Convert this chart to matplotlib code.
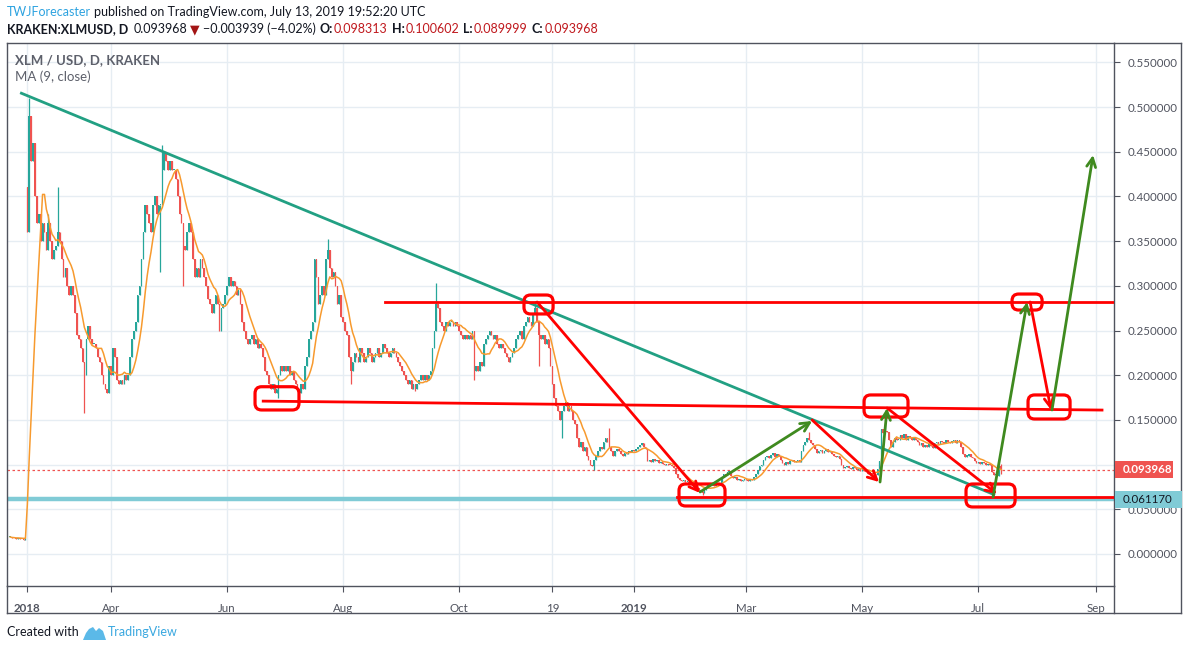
import numpy as np
import pandas as pd
import matplotlib.pyplot as plt
from matplotlib.patches import FancyBboxPatch, Rectangle, Polygon
from matplotlib.lines import Line2D

plt.rcParams['font.family'] = ['Lato', 'DejaVu Sans']

# daily closes of XLM/USD on Kraken (one list per month)
pre_2018 = [0.019, 0.018, 0.018, 0.017, 0.018, 0.017, 0.017, 0.016, 0.018]
q1_2018 = [0.36, 0.49, 0.44, 0.46, 0.40, 0.37, 0.38, 0.35, 0.37, 0.36,
           0.34, 0.37, 0.35, 0.33, 0.34, 0.345, 0.36, 0.35, 0.33, 0.31,
           0.32, 0.30, 0.29, 0.30, 0.29, 0.27, 0.245, 0.24, 0.23, 0.215,
           0.20, 0.24, 0.255, 0.24, 0.235, 0.235, 0.23, 0.22, 0.215, 0.20,
           0.19, 0.185, 0.18, 0.21]
apr_2018 = [0.20, 0.23, 0.22, 0.195, 0.19, 0.195, 0.19, 0.20, 0.195, 0.20,
            0.22, 0.24, 0.25, 0.26, 0.29, 0.30, 0.33, 0.36, 0.39, 0.38,
            0.37, 0.36, 0.39, 0.40, 0.38, 0.39, 0.39, 0.43, 0.45, 0.44]
may_2018 = [0.43, 0.44, 0.43, 0.43, 0.42, 0.40, 0.38, 0.37, 0.345, 0.34,
            0.36, 0.37, 0.36, 0.33, 0.31, 0.32, 0.31, 0.33, 0.32, 0.31,
            0.30, 0.285, 0.28, 0.27, 0.28, 0.29, 0.28, 0.25, 0.275, 0.28, 0.29]
jun_2018 = [0.30, 0.31, 0.30, 0.305, 0.30, 0.29, 0.295, 0.28, 0.26, 0.25,
            0.24, 0.235, 0.24, 0.245, 0.235, 0.24, 0.23, 0.235, 0.23, 0.22,
            0.205, 0.20, 0.19, 0.185, 0.19, 0.18, 0.185, 0.20, 0.21, 0.205]
jul_2018 = [0.21, 0.205, 0.21, 0.20, 0.205, 0.195, 0.19, 0.185, 0.18, 0.19,
            0.185, 0.21, 0.22, 0.24, 0.25, 0.26, 0.33, 0.31, 0.28, 0.29,
            0.30, 0.29, 0.33, 0.34, 0.32, 0.31, 0.315, 0.30, 0.28, 0.29, 0.265]
aug_2018 = [0.26, 0.25, 0.245, 0.22, 0.205, 0.215, 0.225, 0.22, 0.215, 0.23,
            0.225, 0.215, 0.22, 0.23, 0.225, 0.215, 0.22, 0.225, 0.23, 0.22,
            0.225, 0.235, 0.23, 0.225, 0.22, 0.225, 0.23, 0.225, 0.22, 0.215, 0.21]
sep_2018 = [0.205, 0.20, 0.195, 0.19, 0.195, 0.185, 0.19, 0.185, 0.19, 0.195,
            0.20, 0.195, 0.20, 0.195, 0.20, 0.205, 0.23, 0.25, 0.28, 0.275,
            0.26, 0.255, 0.25, 0.26, 0.255, 0.26, 0.26, 0.255, 0.26, 0.255]
oct_2018 = [0.25, 0.245, 0.24, 0.245, 0.24, 0.245, 0.24, 0.25, 0.205, 0.21,
            0.205, 0.215, 0.21, 0.235, 0.24, 0.245, 0.25, 0.245, 0.24, 0.245,
            0.235, 0.23, 0.235, 0.23, 0.225, 0.22, 0.215, 0.22, 0.225, 0.23, 0.24]
nov_2018 = [0.245, 0.25, 0.24, 0.255, 0.26, 0.265, 0.26, 0.255, 0.27, 0.275,
            0.26, 0.245, 0.24, 0.245, 0.235, 0.24, 0.23, 0.21, 0.19, 0.175,
            0.165, 0.16, 0.15, 0.16, 0.165, 0.17, 0.16, 0.165, 0.16, 0.15]
dec_2018 = [0.145, 0.13, 0.12, 0.125, 0.115, 0.12, 0.11, 0.105, 0.10, 0.098,
            0.105, 0.11, 0.115, 0.12, 0.118, 0.125, 0.13, 0.125, 0.12, 0.115,
            0.11, 0.115, 0.117, 0.115, 0.112, 0.11, 0.113, 0.112, 0.115, 0.114, 0.116]
jan_2019 = [0.115, 0.118, 0.12, 0.122, 0.124, 0.12, 0.118, 0.104, 0.105, 0.103,
            0.106, 0.104, 0.105, 0.102, 0.103, 0.101, 0.10, 0.101, 0.10, 0.099,
            0.098, 0.096, 0.09, 0.085, 0.083, 0.082, 0.083, 0.08, 0.081, 0.079, 0.08]
feb_2019 = [0.078, 0.076, 0.074, 0.072, 0.07, 0.068, 0.072, 0.075, 0.078, 0.077,
            0.079, 0.076, 0.078, 0.077, 0.079, 0.086, 0.09, 0.088, 0.092, 0.093,
            0.087, 0.085, 0.086, 0.083, 0.084, 0.082, 0.083, 0.084]
mar_2019 = [0.083, 0.082, 0.084, 0.083, 0.086, 0.09, 0.094, 0.098, 0.10, 0.105,
            0.108, 0.11, 0.107, 0.111, 0.113, 0.109, 0.112, 0.11, 0.105, 0.102,
            0.10, 0.103, 0.101, 0.104, 0.105, 0.103, 0.104, 0.105, 0.103, 0.115, 0.122]
apr_2019 = [0.125, 0.13, 0.128, 0.124, 0.122, 0.118, 0.113, 0.115, 0.116, 0.113,
            0.115, 0.117, 0.114, 0.115, 0.112, 0.11, 0.108, 0.11, 0.106, 0.10,
            0.096, 0.097, 0.098, 0.096, 0.095, 0.097, 0.096, 0.094, 0.095, 0.093]
may_2019 = [0.095, 0.093, 0.092, 0.09, 0.091, 0.089, 0.09, 0.088, 0.095, 0.104,
            0.14, 0.135, 0.138, 0.136, 0.128, 0.12, 0.125, 0.13, 0.127, 0.128,
            0.133, 0.13, 0.134, 0.128, 0.132, 0.13, 0.127, 0.13, 0.128, 0.125, 0.122]
jun_2019 = [0.124, 0.12, 0.122, 0.12, 0.123, 0.121, 0.119, 0.124, 0.125, 0.123,
            0.126, 0.125, 0.124, 0.127, 0.125, 0.124, 0.126, 0.128, 0.124, 0.127,
            0.125, 0.12, 0.112, 0.109, 0.11, 0.112, 0.108, 0.107, 0.104, 0.102]
jul_2019 = [0.103, 0.101, 0.103, 0.102, 0.10, 0.101, 0.099, 0.092, 0.088, 0.09,
            0.087, 0.0979, 0.093968]

segments = [("pre", pre_2018), ("2018q1", q1_2018), ("2018-04", apr_2018),
            ("2018-05", may_2018), ("2018-06", jun_2018), ("2018-07", jul_2018),
            ("2018-08", aug_2018), ("2018-09", sep_2018), ("2018-10", oct_2018),
            ("2018-11", nov_2018), ("2018-12", dec_2018), ("2019-01", jan_2019),
            ("2019-02", feb_2019), ("2019-03", mar_2019), ("2019-04", apr_2019),
            ("2019-05", may_2019), ("2019-06", jun_2019), ("2019-07", jul_2019)]

# wicks that stick out of the bodies: (segment, bar in segment, high, low)
wicks = [("2018q1", 1, 0.51, None), ("2018q1", 11, 0.38, None), ("2018q1", 16, 0.41, None),
         ("2018q1", 30, None, 0.158), ("2018-04", 26, None, 0.315), ("2018-04", 27, 0.458, None),
         ("2018-05", 8, None, 0.30), ("2018-06", 27, None, 0.175), ("2018-07", 23, 0.352, None),
         ("2018-08", 4, None, 0.19), ("2018-09", 7, None, 0.182), ("2018-09", 18, 0.303, None),
         ("2018-10", 8, None, 0.195), ("2018-11", 9, 0.283, None), ("2018-11", 11, None, 0.21),
         ("2018-11", 23, None, 0.13), ("2018-12", 10, None, 0.094), ("2018-12", 18, 0.141, None),
         ("2019-02", 5, None, 0.066), ("2019-04", 2, 0.136, None), ("2019-05", 12, 0.145, None),
         ("2019-07", 12, 0.100602, 0.089999)]
first_open = 0.41
last_open = 0.098313
ma_len = 9

tick_labels = ["2018", "Apr", "Jun", "Aug", "Oct", "19", "2019", "Mar", "May", "Jul", "Sep"]
tick_dates = [("2018q1", 0), ("2018-04", 0), ("2018-06", 0), ("2018-08", 0), ("2018-10", 0),
              ("2018-11", 18), ("2019-01", 0), ("2019-03", 0), ("2019-05", 0), ("2019-07", 0),
              ("2019-07", 62)]
price_ticks = np.arange(0, 0.5501, 0.05)
last_price = 0.093968
line_price = 0.061170

# drawings, in (bar, price)
trend_line = [(5.2, 0.516), (517.8, 0.066)]
resistance = [(197, 0.282), (581, 0.282)]
support = [(133, 0.171), (574, 0.161)]
floor_line = [(350.6, 0.064), (581, 0.064)]
boxes = [(128.7, 151.8, 0.1611, 0.1871), (270.1, 285.4, 0.2685, 0.2897),
         (351.6, 375.8, 0.0537, 0.0783), (448.9, 472.0, 0.1532, 0.1779),
         (502.5, 528.3, 0.0526, 0.0783), (526.7, 542.5, 0.2729, 0.2908),
         (535.1, 557.2, 0.1510, 0.1779)]
arrows = [((277.0, 0.2819), (362.7, 0.0682), 'red'),
          ((362.7, 0.0694), (421.6, 0.1488), 'green'),
          ((421.6, 0.1499), (456.8, 0.0805), 'red'),
          ((457.3, 0.0805), (461.0, 0.1633), 'green'),
          ((461.0, 0.1633), (518.8, 0.0671), 'red'),
          ((516.7, 0.0638), (534.6, 0.2819), 'green'),
          ((536.2, 0.2819), (547.2, 0.1611), 'red'),
          ((547.7, 0.1611), (569.3, 0.4463), 'green')]

UP, DOWN = '#26a69a', '#ef5350'
RED, GREEN, TEAL = '#ff0000', '#3f8a1f', '#22a083'
GRID = '#e6edf3'
AXIS_TXT = '#50535e'

start = {}
closes = []
for name, vals in segments:
    start[name] = len(closes)
    closes += vals
closes = np.array(closes)
n = len(closes)
opens = np.r_[closes[0], closes[:-1]]
opens[start["2018q1"]] = first_open
opens[-1] = last_open
highs = np.maximum(opens, closes)
lows = np.minimum(opens, closes)
for seg, k, hi, lo in wicks:
    b = start[seg] + k
    if hi is not None:
        highs[b] = max(highs[b], hi)
    if lo is not None:
        lows[b] = min(lows[b], lo)
ma = pd.Series(closes).rolling(ma_len, min_periods=1).mean()

W, H = 1188, 650
fig = plt.figure(figsize=(W / 100, H / 100), dpi=100)
fig.patch.set_facecolor('white')


def fx(x):
    return x / W


def fy(y):
    return 1 - y / H


ax = fig.add_axes([fx(7), fy(586), fx(1114) - fx(7), fy(43) - fy(586)])
ax.set_xlim(-1.7, 580.3)
ax.set_ylim(-0.0358, 0.5716)

x = np.arange(n)
col = np.where(closes >= opens, UP, DOWN)
ax.vlines(x, lows, highs, colors=col, lw=0.9, zorder=3)
body = np.maximum(np.abs(closes - opens), 0.0012)
ax.bar(x, body, bottom=np.minimum(opens, closes), width=0.85, color=col, lw=0, zorder=3)
ax.plot(x, ma, color='#f79a2e', lw=1.1, zorder=4)

# drawings
ax.plot(*zip(*trend_line), color=TEAL, lw=2, zorder=5, solid_capstyle='butt')
for seg in (resistance, support, floor_line):
    ax.plot(*zip(*seg), color=RED, lw=2, zorder=5)
ax.axhline(line_price, color='#80cbd6', lw=3.2, zorder=2)
ax.axhline(last_price, color=DOWN, lw=0.9, ls=(0, (2, 2)), zorder=2)
for x0, x1, y0, y1 in boxes:
    ax.add_patch(FancyBboxPatch((x0, y0), x1 - x0, y1 - y0,
                                boxstyle='round,pad=0,rounding_size=3.5',
                                mutation_aspect=1.9 / 894,
                                fill=False, ec=RED, lw=2.3, zorder=6))
for (x0, y0), (x1, y1), c in arrows:
    ax.annotate('', xy=(x1, y1), xytext=(x0, y0),
                arrowprops=dict(arrowstyle='->', color=RED if c == 'red' else GREEN,
                                lw=2, mutation_scale=16, shrinkA=0, shrinkB=0),
                zorder=7)

# axes look
ax.set_xticks([start[s] + k for s, k in tick_dates])
ax.set_xticklabels(tick_labels)
for lab in ax.get_xticklabels():
    if lab.get_text() in ("2018", "2019"):
        lab.set_fontweight('bold')
ax.set_yticks(price_ticks)
# the 0.100000 label sits under the last-price tag, as on the original
ax.set_yticklabels(["" if abs(v - 0.1) < 1e-9 else f"{v:.6f}" for v in price_ticks])
ax.yaxis.tick_right()
ax.tick_params(axis='x', direction='out', length=4, color=AXIS_TXT, labelcolor=AXIS_TXT,
               labelsize=8.3, pad=8)
ax.tick_params(axis='y', direction='out', length=4, color=AXIS_TXT, labelcolor=AXIS_TXT,
               labelsize=8.3, pad=6)
ax.grid(True, color=GRID, lw=1, zorder=0)
ax.set_axisbelow(True)
for sp in ax.spines.values():
    sp.set_color('#50535e')
    sp.set_linewidth(1)

ax.text(0.0072, 0.969, "XLM / USD, D, KRAKEN", transform=ax.transAxes, fontsize=9.5,
        fontweight='bold', color='#5d606b', va='center')
ax.text(0.0072, 0.937, "MA (9, close)", transform=ax.transAxes, fontsize=9.5,
        color='#5d606b', va='center')

# outer frame of the price and time scales
frame = [((7, 613), (1181, 613)), ((1181, 43), (1181, 613)), ((1114, 43), (1181, 43)),
         ((1114, 586), (1114, 613)), ((7, 586), (7, 613))]
for (a, b), (c, d) in frame:
    fig.add_artist(Line2D([fx(a), fx(c)], [fy(b), fy(d)], color='#50535e', lw=1))

# last price / horizontal line labels on the price scale
for price, w, face, tc in ((last_price, 58, DOWN, 'white'), (line_price, 67, '#80cbd6', '#131722')):
    yp = 554 - 894 * price
    fig.add_artist(Rectangle((fx(1115), fy(yp + 8.5)), fx(w), 17 / H, fc=face, ec='none', zorder=5))
    fig.text(fx(1123), fy(yp), f"{price:.6f}", color=tc, fontsize=8.3, va='center', zorder=6,
             fontweight='bold' if tc == 'white' else 'normal')

# header and footer
r = fig.canvas.get_renderer()


def runs(x, y, parts, size):
    for s, c, wt, gap in parts:
        t = fig.text(fx(x), fy(y), s, color=c, fontsize=size, fontweight=wt, va='center')
        x += t.get_window_extent(r).width + gap


DARK = '#131722'
runs(7, 12, [("TWJForecaster", '#2ea3e0', 'normal', 3),
             ("published on TradingView.com, July 13, 2019 19:52:20 UTC", DARK, 'normal', 0)], 9)
runs(7, 29, [("KRAKEN:XLMUSD, D", DARK, 'bold', 5), ("0.093968", DARK, 'normal', 3),
             ("▼", '#a31515', 'normal', 3), ("\u22120.003939 (\u22124.02%)", DARK, 'normal', 4),
             ("O:", DARK, 'bold', 1), ("0.098313", '#c0191e', 'normal', 4),
             ("H:", DARK, 'bold', 1), ("0.100602", '#c0191e', 'normal', 4),
             ("L:", DARK, 'bold', 1), ("0.089999", '#c0191e', 'normal', 4),
             ("C:", DARK, 'bold', 1), ("0.093968", '#c0191e', 'normal', 0)], 9)
fig.text(fx(7), fy(632), "Created with", color=DARK, fontsize=9, va='center')
logo = [(83, 640), (86, 633), (89, 629), (93, 627), (96, 631), (99, 628), (103, 631), (106, 640)]
fig.add_artist(Polygon([(fx(a), fy(b)) for a, b in logo], closed=True, fc='#5bb9e8', ec='none'))
fig.text(fx(108), fy(632), "TradingView", color='#3aa8e0', fontsize=9, va='center')

fig.savefig('out.png', dpi=100)
